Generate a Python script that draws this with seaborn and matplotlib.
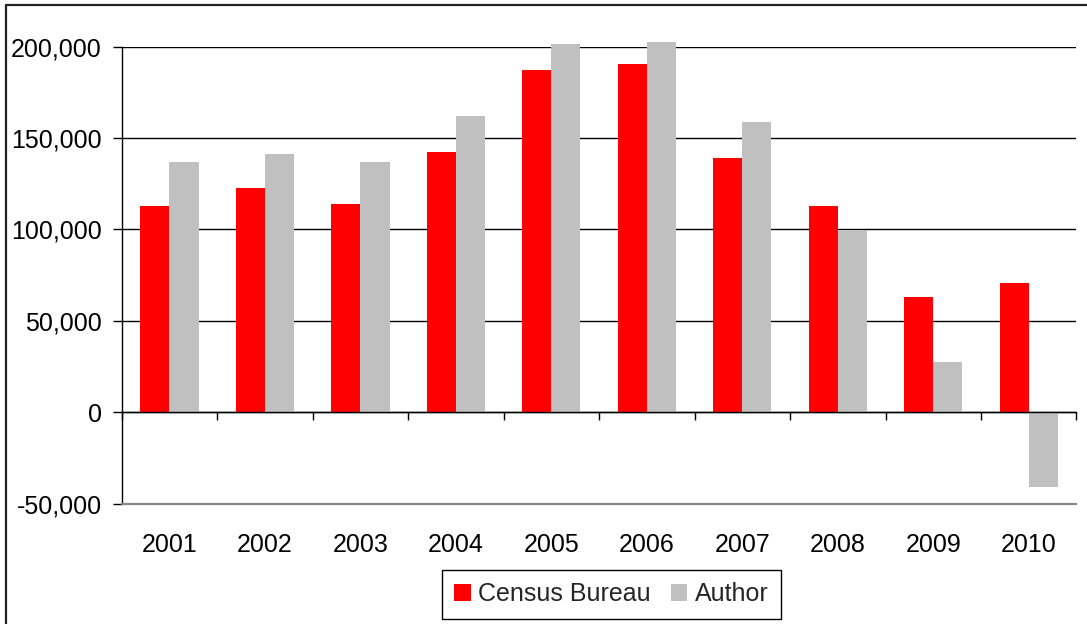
import matplotlib
matplotlib.use("Agg")
import matplotlib.pyplot as plt
from matplotlib.lines import Line2D
from matplotlib.ticker import FuncFormatter
import seaborn as sns
import pandas as pd

# Annual housing estimates by source
years = ["2001", "2002", "2003", "2004", "2005", "2006", "2007", "2008", "2009", "2010"]
census_bureau = [113000, 122800, 114100, 142400, 187300, 190600, 139100, 113000, 62800, 70500]
author = [136900, 141300, 136900, 162100, 201500, 202300, 158800, 99800, 27700, -40900]
series_names = ["Census Bureau", "Author"]
series_colors = ["#FF0000", "#C0C0C0"]
y_ticks = [-50000, 0, 50000, 100000, 150000, 200000]

df = pd.DataFrame({
    "year": years * 2,
    "value": census_bureau + author,
    "source": [series_names[0]] * len(years) + [series_names[1]] * len(years),
})

sns.set_theme(style="white")
plt.rcParams["font.family"] = ["Liberation Sans", "DejaVu Sans"]
FS = 18

fig = plt.figure(figsize=(10.87, 6.24), dpi=100)
ax = fig.add_axes([0.112, 0.1931, 0.8783, 0.7321])

sns.barplot(data=df, x="year", y="value", hue="source", order=years,
            hue_order=series_names, palette=series_colors, width=0.61,
            linewidth=0, saturation=1, legend=True, ax=ax, zorder=3)
for p in ax.patches:
    p.set_clip_on(False)

ax.set_xlim(-0.5, len(years) - 0.5)
ax.set_ylim(-50000, 200000)
ax.set_xlabel("")
ax.set_ylabel("")

# value axis
ax.set_yticks(y_ticks)
ax.yaxis.set_major_formatter(FuncFormatter(lambda v, _: f"{int(v):,}"))
ax.tick_params(axis="y", which="major", direction="out", length=6.5, width=1,
               color="black", pad=8, labelsize=FS, labelcolor="black", left=True)
ax.yaxis.grid(True, color="black", linewidth=1)
ax.set_axisbelow(True)

# category labels below the plot area
ax.tick_params(axis="x", which="major", length=0, pad=21, labelsize=FS,
               labelcolor="black", bottom=True)

for side in ["top", "right"]:
    ax.spines[side].set_visible(False)
ax.spines["left"].set_color("black")
ax.spines["left"].set_linewidth(1)
ax.spines["bottom"].set_color("#868686")
ax.spines["bottom"].set_linewidth(1.6)

# category axis line at zero with boundary ticks
sec = ax.secondary_xaxis(0.2)
sec.set_xticks([i - 0.5 for i in range(len(years) + 1)])
sec.set_xticklabels([])
sec.tick_params(axis="x", direction="out", length=6, width=1, color="black")
sec.spines["bottom"].set_color("black")
sec.spines["bottom"].set_linewidth(1)
sec.set_zorder(4)

# legend beneath the chart
handles, labels = ax.get_legend_handles_labels()
ax.get_legend().remove()
leg = fig.legend(handles, labels, loc="center", bbox_to_anchor=(0.5626, 0.0473),
                 ncol=2, fontsize=FS, frameon=True, fancybox=False, shadow=False,
                 handlelength=0.66, handleheight=0.66, handletextpad=0.3,
                 columnspacing=0.8, borderpad=0.5, borderaxespad=0)
leg.get_frame().set_edgecolor("black")
leg.get_frame().set_linewidth(1)
leg.get_frame().set_alpha(1)

# outer chart border
fig.add_artist(Line2D([5.5 / 1087, 1.0], [1 - 5 / 624, 1 - 5 / 624],
                      transform=fig.transFigure, color="#222222", linewidth=1.6))
fig.add_artist(Line2D([5.5 / 1087, 5.5 / 1087], [0.0, 1 - 5 / 624],
                      transform=fig.transFigure, color="#222222", linewidth=1.6))

fig.savefig("out.png", dpi=100, facecolor="white")
